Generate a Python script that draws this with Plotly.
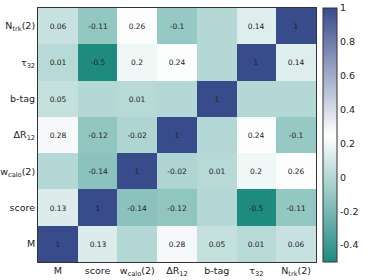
import plotly.graph_objects as go

labels = ["M", "score", "w<sub>calo</sub>(2)", "ΔR<sub>12</sub>", "b-tag", "τ<sub>32</sub>", "N<sub>trk</sub>(2)"]

# correlation rows (bottom to top), columns left to right
row_M = [1, 0.13, 0.0, 0.28, 0.05, 0.01, 0.06]
row_score = [0.13, 1, -0.14, -0.12, 0.0, -0.5, -0.11]
row_wcalo = [0.0, -0.14, 1, -0.02, 0.01, 0.2, 0.26]
row_dR = [0.28, -0.12, -0.02, 1, 0.0, 0.24, -0.1]
row_btag = [0.05, 0.0, 0.01, 0.0, 1, 0.0, 0.0]
row_tau = [0.01, -0.5, 0.2, 0.24, 0.0, 1, 0.14]
row_ntrk = [0.06, -0.11, 0.26, -0.1, 0.0, 0.14, 1]

z = [row_M, row_score, row_wcalo, row_dR, row_btag, row_tau, row_ntrk]
text = [["" if v == 0 else ("%g" % v) for v in r] for r in z]

colorscale = [[0.0, "#1f8a80"], [0.5, "#ffffff"], [1.0, "#384c8b"]]

W, H = 374, 280
x0, x1 = 38, 316
y0, y1 = 8, 262

fig = go.Figure(go.Heatmap(
    z=z, x=labels, y=labels, text=text, texttemplate="%{text}",
    textfont=dict(size=7.5, color="#222222", family="DejaVu Sans"),
    colorscale=colorscale, zmin=-0.5, zmax=1,
    xgap=0, ygap=0,
    colorbar=dict(
        x=323 / W, xanchor="left", xpad=0, ypad=0,
        y=1 - (y0 + y1) / 2 / H, yanchor="middle",
        len=(y1 - y0) / H, lenmode="fraction", thickness=14, thicknessmode="pixels",
        outlinecolor="#333333", outlinewidth=1,
        tickvals=[-0.4, -0.2, 0, 0.2, 0.4, 0.6, 0.8, 1],
        ticktext=["-0.4", "-0.2", "0", "0.2", "0.4", "0.6", "0.8", "1"],
        ticks="", ticklen=0,
        tickfont=dict(size=9.5, color="#222222", family="DejaVu Sans"),
    ),
))

fig.update_layout(
    width=W, height=H,
    margin=dict(l=0, r=0, t=0, b=0),
    paper_bgcolor="white", plot_bgcolor="white",
    font=dict(family="DejaVu Sans", size=9.5, color="#222222"),
)
fig.update_xaxes(domain=[x0 / W, x1 / W], automargin=False,
                 showline=True, linecolor="#333333", linewidth=1, mirror=True,
                 ticks="", showgrid=False, type="category")
fig.update_yaxes(domain=[1 - y1 / H, 1 - y0 / H], automargin=False,
                 showline=True, linecolor="#333333", linewidth=1, mirror=True,
                 ticks="", showgrid=False, type="category")

fig.write_html("out.html", config={"displayModeBar": False},
               post_script="document.body.style.margin='0';")
